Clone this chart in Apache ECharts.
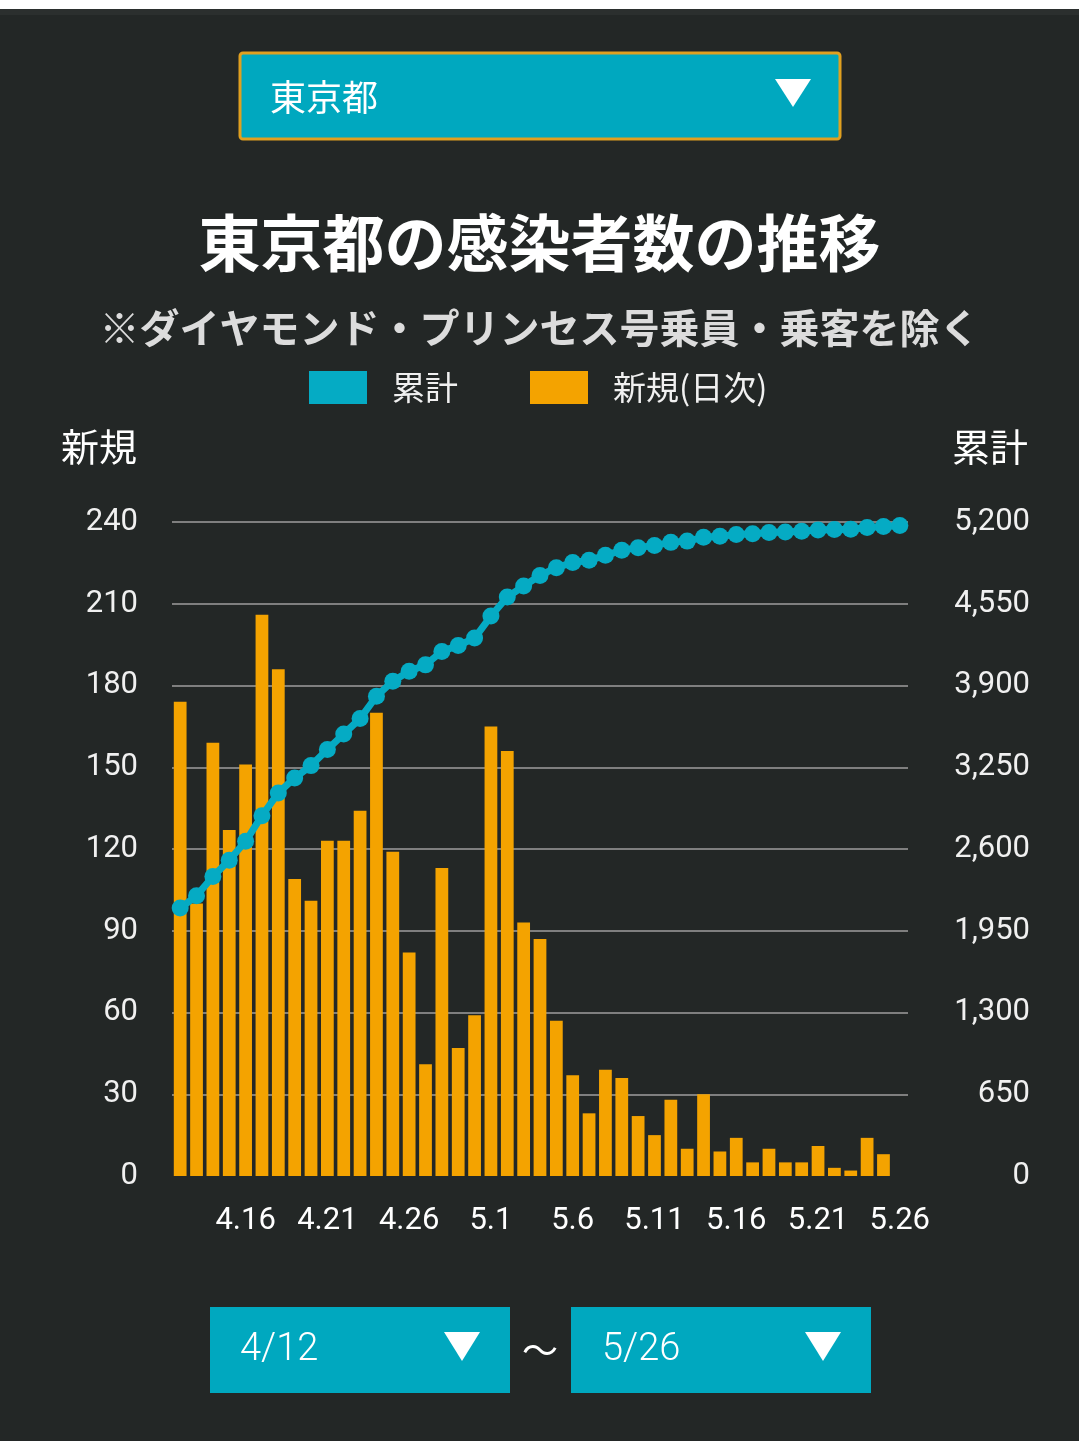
<!DOCTYPE html>
<html>
<head>
<meta charset="utf-8">
<script src="https://cdn.jsdelivr.net/npm/echarts@6/dist/echarts.min.js"></script>
<style>
  html, body { margin: 0; padding: 0; background: #232726; }
  #chart { width: 1079px; height: 1441px; }
</style>
</head>
<body>
<div id="chart"></div>
<script>
// 日付（横軸）
var categories = ['4.12','4.13','4.14','4.15','4.16','4.17','4.18','4.19','4.20','4.21',
  '4.22','4.23','4.24','4.25','4.26','4.27','4.28','4.29','4.30','5.1',
  '5.2','5.3','5.4','5.5','5.6','5.7','5.8','5.9','5.10','5.11',
  '5.12','5.13','5.14','5.15','5.16','5.17','5.18','5.19','5.20','5.21',
  '5.22','5.23','5.24','5.25','5.26'];

// 新規(日次)
var newCases = [174,100,159,127,151,206,186,109,101,123,
  123,134,170,119,82,41,113,47,59,165,
  156,93,87,57,37,23,39,36,22,15,
  28,10,30,9,14,5,10,5,5,11,
  3,2,14,8,null];

// 累計
var totalCases = [2130,2229,2382,2510,2661,2865,3046,3165,3263,3391,
  3515,3637,3815,3934,4014,4064,4171,4218,4277,4452,
  4603,4691,4775,4837,4878,4895,4935,4975,4996,5014,
  5038,5048,5078,5087,5101,5106,5116,5121,5126,5137,
  5140,5142,5156,5164,5172];

// 目盛り
var leftTicks = { min: 0, max: 240, interval: 30 };
var rightTicks = { min: 0, max: 5200, interval: 650 };

var TEAL = '#00a8bf';
var LINE_TEAL = '#05abc4';
var ORANGE = '#f4a300';
var JP = '"Noto Sans CJK JP", "Noto Sans", sans-serif';
var NUM = 'Roboto, "Noto Sans", sans-serif';

var myChart = echarts.init(document.getElementById('chart'));

function comma(v) {
    return String(v).replace(/\B(?=(\d{3})+(?!\d))/g, ',');
}

// 0 の線だけ消す
var splitColors = ['rgba(0,0,0,0)'];
for (var i = 1; i <= 8; i++) splitColors.push('#7f7f7f');

var option = {
    backgroundColor: '#232726',
    animation: false,
    title: {
        text: '東京都の感染者数の推移',
        subtext: '※ダイヤモンド・プリンセス号乗員・乗客を除く',
        left: 'center',
        top: 206,
        itemGap: 32,
        textStyle: {
            color: '#ffffff',
            fontSize: 62,
            fontWeight: 'bold',
            fontFamily: JP,
            lineHeight: 64
        },
        subtextStyle: {
            color: '#dcdcdc',
            fontSize: 40,
            fontWeight: 'bold',
            fontFamily: JP,
            lineHeight: 42
        }
    },
    legend: {
        left: 304,
        top: 366,
        itemWidth: 58,
        itemHeight: 33,
        itemGap: 72,
        icon: 'rect',
        data: ['累計', '新規(日次)'],
        textStyle: {
            color: '#f0f0f0',
            fontSize: 33,
            fontFamily: JP,
            padding: [0, 0, 0, 20]
        }
    },
    grid: {
        left: 172,
        right: 171,
        top: 522,
        bottom: 265
    },
    xAxis: {
        type: 'category',
        data: categories,
        boundaryGap: true,
        axisLine: { show: false },
        axisTick: { show: false },
        axisLabel: {
            color: '#ffffff',
            fontSize: 31,
            fontFamily: NUM,
            margin: 30,
            interval: function (idx) { return idx >= 4 && (idx - 4) % 5 === 0; }
        }
    },
    yAxis: [{
        type: 'value',
        name: '新規',
        nameLocation: 'end',
        nameGap: 56,
        nameTextStyle: {
            color: '#ffffff',
            fontSize: 38,
            fontFamily: JP,
            align: 'right',
            padding: [0, 35, 0, 0]
        },
        min: leftTicks.min,
        max: leftTicks.max,
        interval: leftTicks.interval,
        axisLine: { show: false },
        axisTick: { show: false },
        axisLabel: {
            color: '#f0f0f0',
            fontSize: 31,
            fontFamily: NUM,
            margin: 34
        },
        splitLine: {
            lineStyle: { color: splitColors, width: 2 }
        }
    }, {
        type: 'value',
        name: '累計',
        nameLocation: 'end',
        nameGap: 56,
        nameTextStyle: {
            color: '#ffffff',
            fontSize: 38,
            fontFamily: JP,
            align: 'left',
            padding: [0, 0, 0, 44]
        },
        min: rightTicks.min,
        max: rightTicks.max,
        interval: rightTicks.interval,
        axisLine: { show: false },
        axisTick: { show: false },
        axisLabel: {
            color: '#f0f0f0',
            fontSize: 31,
            fontFamily: NUM,
            align: 'right',
            margin: 122,
            formatter: comma
        },
        splitLine: { show: false }
    }],
    series: [{
        name: '新規(日次)',
        type: 'bar',
        yAxisIndex: 0,
        data: newCases,
        barWidth: '78%',
        itemStyle: { color: ORANGE },
        z: 2
    }, {
        name: '累計',
        type: 'line',
        yAxisIndex: 1,
        data: totalCases,
        symbol: 'circle',
        symbolSize: 17,
        showSymbol: true,
        showAllSymbol: true,
        lineStyle: { color: LINE_TEAL, width: 7 },
        itemStyle: { color: LINE_TEAL, borderWidth: 0 },
        z: 3
    }],
    color: [TEAL, ORANGE],
    graphic: [
        // 上の帯
        { type: 'rect', shape: { x: 0, y: 0, width: 1079, height: 9 }, style: { fill: '#ffffff' } },
        { type: 'rect', shape: { x: 0, y: 9, width: 1079, height: 6 }, style: { fill: '#2b2f2e' } },
        // 都道府県セレクト
        { type: 'rect', shape: { x: 240, y: 53, width: 600, height: 86, r: 3 },
          style: { fill: TEAL, stroke: '#e0a020', lineWidth: 3 } },
        { type: 'text', x: 270, y: 97,
          style: { text: '東京都', fill: '#ffffff', font: '36px ' + JP, textVerticalAlign: 'middle' } },
        { type: 'polygon', shape: { points: [[775, 79], [811, 79], [793, 107]] }, style: { fill: '#ffffff' } },
        // 期間セレクト
        { type: 'rect', shape: { x: 210, y: 1307, width: 300, height: 86 }, style: { fill: TEAL } },
        { type: 'text', x: 240, y: 1350,
          style: { text: '4/12', fill: '#ffffff', font: '300 38px ' + NUM, textVerticalAlign: 'middle' } },
        { type: 'polygon', shape: { points: [[444, 1332], [480, 1332], [462, 1361]] }, style: { fill: '#ffffff' } },
        { type: 'text', x: 540, y: 1350,
          style: { text: '～', fill: '#ffffff', font: '36px ' + JP, textAlign: 'center', textVerticalAlign: 'middle' } },
        { type: 'rect', shape: { x: 571, y: 1307, width: 300, height: 86 }, style: { fill: TEAL } },
        { type: 'text', x: 602, y: 1350,
          style: { text: '5/26', fill: '#ffffff', font: '300 38px ' + NUM, textVerticalAlign: 'middle' } },
        { type: 'polygon', shape: { points: [[805, 1332], [841, 1332], [823, 1361]] }, style: { fill: '#ffffff' } }
    ]
};

myChart.setOption(option);
</script>
</body>
</html>
